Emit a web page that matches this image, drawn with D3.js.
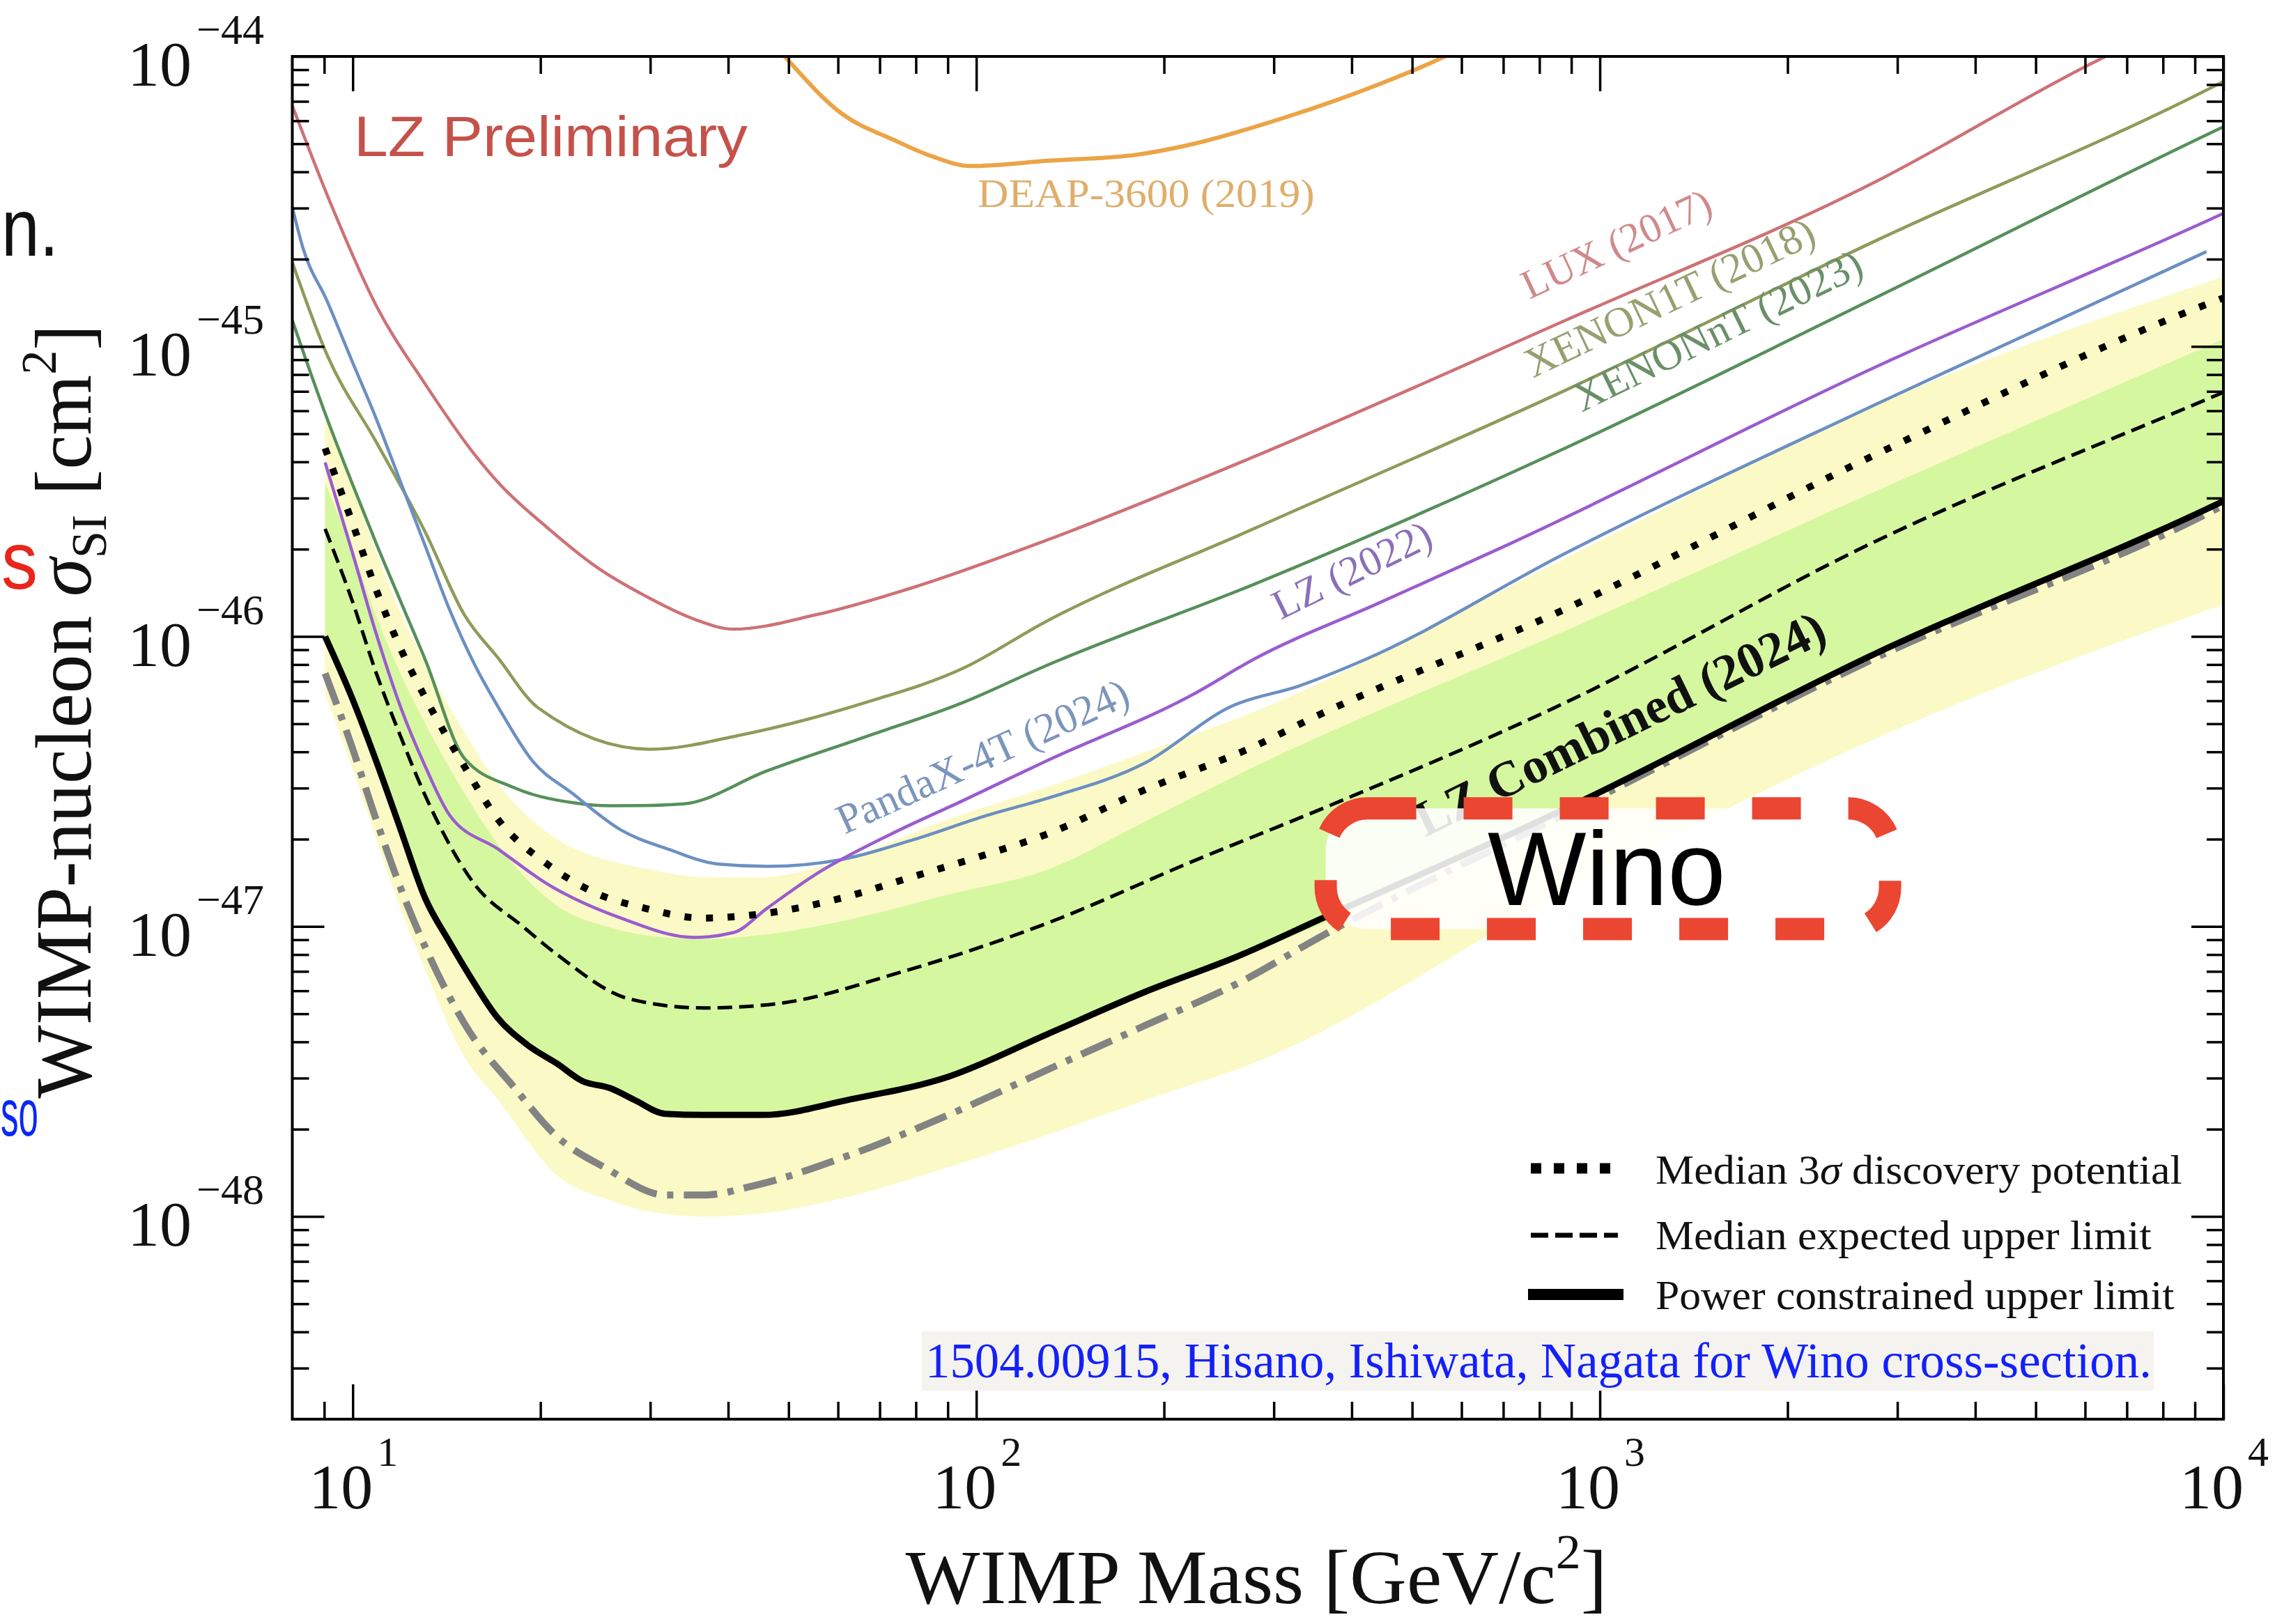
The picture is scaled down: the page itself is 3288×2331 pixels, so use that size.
<!DOCTYPE html>
<html><head><meta charset="utf-8">
<script src="https://cdnjs.cloudflare.com/ajax/libs/d3/7.8.5/d3.min.js"></script>
<style>
html,body{margin:0;padding:0;background:#ffffff;}
svg{display:block;}
</style></head>
<body>
<svg id="chart" width="3288" height="2331"></svg>
<script>
// ---------------- DATA (WIMP mass in GeV/c^2, log10 of cross-section in cm^2) ----------------
const massLUX = [8.0, 9.27, 10.91, 13.07, 15.65, 17.13, 20.52, 24.58, 29.44, 35.26, 40.76, 55.4, 79.5, 129, 279, 881, 2780, 6070, 12000];
const logLUX  = [-44.17, -44.52, -44.86, -45.13, -45.37, -45.47, -45.625, -45.76, -45.86, -45.94, -45.975, -45.925, -45.83, -45.67, -45.38, -44.91, -44.43, -44.03, -43.73];

const massX1T = [8.0, 9.1, 10.91, 13.07, 15.1, 17.13, 19.8, 30.0, 42.3, 66.4, 95.2, 129, 279, 881, 2780, 9614, 11000];
const logX1T  = [-44.71, -45.03, -45.33, -45.64, -45.925, -46.076, -46.245, -46.389, -46.338, -46.228, -46.11, -45.95, -45.628, -45.151, -44.634, -44.105, -44.04];

const massXnT = [8.0, 9.1, 9.97, 10.91, 11.94, 13.07, 15.1, 18.08, 22.5, 25.9, 29.4, 34.0, 46.1, 66.4, 95.2, 129, 279, 881, 2780, 9614, 11000];
const logXnT  = [-44.91, -45.25, -45.47, -45.68, -45.88, -46.08, -46.42, -46.52, -46.573, -46.584, -46.583, -46.577, -46.464, -46.346, -46.228, -46.102, -45.82, -45.35, -44.83, -44.26, -44.2];

const massPX = [8.0, 8.32, 9.1, 9.96, 10.91, 11.94, 13.07, 14.3, 15.65, 17.13, 19.45, 22.47, 26.9, 32.2, 38.6, 46.3, 60.6, 79.5, 104, 129, 185.8, 257, 330, 422, 881, 2780, 9394];
const logPX  = [-44.52, -44.66, -44.844, -45.047, -45.25, -45.469, -45.688, -45.908, -46.093, -46.245, -46.431, -46.54, -46.667, -46.735, -46.785, -46.793, -46.77, -46.70, -46.617, -46.56, -46.438, -46.24, -46.17, -46.078, -45.713, -45.198, -44.673];

const massLZ22 = [9.03, 9.97, 10.91, 11.94, 13.07, 14.3, 17.13, 20.5, 26.9, 35.3, 40.8, 46.2, 55.4, 72.6, 95.2, 129, 222.6, 279, 442, 700, 2780, 9725, 11000];
const logLZ22  = [-45.40, -45.705, -45.992, -46.245, -46.448, -46.616, -46.734, -46.853, -46.971, -47.038, -47.021, -46.937, -46.819, -46.684, -46.566, -46.431, -46.20, -46.078, -45.885, -45.691, -45.069, -44.553, -44.5];

const massDEAP = [45, 49.3, 61.1, 73.4, 84.8, 97.9, 130, 180.7, 216.4, 311, 446, 563, 650];
const logDEAP  = [-43.9, -44.0, -44.2, -44.286, -44.344, -44.378, -44.36, -44.339, -44.308, -44.212, -44.093, -44.001, -43.93];

// LZ combined (2024)
const massDisc = [9.03, 9.97, 10.91, 11.94, 13.07, 15.1, 17.13, 20.5, 24.6, 29.4, 36.5, 46.2, 60.6, 79.5, 104, 129, 185.8, 279, 343, 881, 2780, 9394, 11000];
const logDisc  = [-45.351, -45.604, -45.84, -46.043, -46.211, -46.448, -46.633, -46.785, -46.886, -46.937, -46.971, -46.954, -46.903, -46.827, -46.751, -46.684, -46.53, -46.379, -46.285, -45.905, -45.371, -44.855, -44.8];

const massExp = [9.03, 9.97, 10.91, 11.94, 13.07, 15.65, 18.74, 21.3, 27.9, 36.6, 48, 75.3, 129.5, 222.6, 361.3, 881, 2780, 9826, 11000];
const logExp  = [-45.629, -45.874, -46.127, -46.346, -46.549, -46.852, -47.0, -47.098, -47.251, -47.281, -47.266, -47.159, -46.99, -46.775, -46.591, -46.228, -45.67, -45.165, -45.12];

const massPCL = [9.03, 9.97, 10.91, 11.94, 13.07, 14.3, 15.4, 17.0, 19.1, 21.3, 23.3, 25.9, 28.4, 31.7, 36.6, 45.4, 62.9, 90.2, 129.5, 185.8, 266.6, 356, 881, 2780, 9826, 11000];
const logPCL  = [-46.0, -46.211, -46.431, -46.667, -46.903, -47.054, -47.17, -47.31, -47.41, -47.474, -47.532, -47.558, -47.60, -47.646, -47.65, -47.65, -47.596, -47.518, -47.373, -47.227, -47.097, -46.975, -46.594, -46.057, -45.541, -45.49];

const massObs = [9.03, 9.97, 10.91, 11.94, 13.07, 15.36, 18.07, 21.3, 25.5, 31.7, 36.6, 43.8, 62.9, 90.2, 129.5, 185.8, 266.6, 356, 881, 2780, 9826, 11000];
const logObs  = [-46.127, -46.38, -46.633, -46.869, -47.071, -47.36, -47.55, -47.726, -47.834, -47.926, -47.926, -47.895, -47.787, -47.65, -47.496, -47.343, -47.189, -47.036, -46.612, -46.072, -45.556, -45.5];

const bandMass = [9.03, 9.97, 10.91, 11.94, 13.07, 15.1, 17.13, 21.3, 25.5, 29.4, 36.6, 45, 62.9, 90.2, 129.5, 185.8, 279, 881, 2780, 10000];
const band1Lo  = [-46.0, -46.211, -46.431, -46.667, -46.903, -47.14, -47.30, -47.474, -47.557, -47.62, -47.65, -47.65, -47.596, -47.518, -47.373, -47.227, -47.087, -46.594, -46.057, -45.535];
const band1Hi  = [-45.47, -45.70, -45.93, -46.13, -46.30, -46.54, -46.72, -46.93, -47.0, -47.03, -47.044, -47.03, -46.975, -46.89, -46.806, -46.64, -46.45, -45.98, -45.498, -44.975];
const band2Lo  = [-46.2, -46.45, -46.70, -46.94, -47.15, -47.45, -47.60, -47.86, -47.94, -47.98, -48.0, -47.99, -47.93, -47.83, -47.72, -47.60, -47.47, -46.88, -46.35, -45.89];
const band2Hi  = [-45.22, -45.47, -45.71, -45.92, -46.09, -46.33, -46.51, -46.70, -46.77, -46.80, -46.83, -46.83, -46.76, -46.63, -46.52, -46.40, -46.26, -45.73, -45.20, -44.76];

// ticks
const xMajorTicks = [10, 100, 1000, 10000];
const xMajorExp = ["1", "2", "3", "4"];
const yMajorTicks = [1e-48, 1e-47, 1e-46, 1e-45, 1e-44];
const yMajorExp = ["\u221248", "\u221247", "\u221246", "\u221245", "\u221244"];

const curveNames = ["LUX (2017)", "XENON1T (2018)", "XENONnT (2023)", "LZ (2022)", "PandaX-4T (2024)"];
const legendLabels = ["Median 3σ discovery potential", "Median expected upper limit", "Power constrained upper limit"];
const citation = "1504.00915, Hisano, Ishiwata, Nagata for Wino cross-section.";

// ---------------- LAYOUT ----------------
const svg = d3.select('#chart');
const P = {left: 419.5, right: 3191, top: 81, bottom: 2037};
const x = d3.scaleLog().domain([8, 10000]).range([P.left, P.right]);
const y = d3.scaleLog().domain([2e-49, 1e-44]).range([P.bottom, P.top]);
const SERIF = "'Liberation Serif','Times New Roman',Times,serif";
const SANS = "'Liberation Sans',Arial,Helvetica,sans-serif";

svg.append('rect').attr('width', 3288).attr('height', 2331).attr('fill', '#ffffff');

svg.append('defs').append('clipPath').attr('id', 'clip').append('rect')
  .attr('x', P.left).attr('y', P.top).attr('width', P.right - P.left).attr('height', P.bottom - P.top);

const plot = svg.append('g').attr('clip-path', 'url(#clip)');

const pts = (ms, ls) => ms.map((m, i) => [m, Math.pow(10, ls[i])]);
const line = (curve) => d3.line().x(d => x(d[0])).y(d => y(d[1])).curve(curve || d3.curveMonotoneX);

// bands
const band = (lo, hi) => bandMass.map((m, i) => [m, Math.pow(10, lo[i]), Math.pow(10, hi[i])]);
const area = d3.area().x(d => x(d[0])).y0(d => y(d[1])).y1(d => y(d[2])).curve(d3.curveMonotoneX);
plot.append('path').attr('d', area(band(band2Lo, band2Hi))).attr('fill', '#fbf9c6');
plot.append('path').attr('d', area(band(band1Lo, band1Hi))).attr('fill', '#d5f7a0');

// other experiments
const others = [
  {m: massDEAP, l: logDEAP, c: '#eba446', w: 6},
  {m: massLUX, l: logLUX, c: '#cd7276', w: 4.5},
  {m: massX1T, l: logX1T, c: '#8d9c5a', w: 4.5},
  {m: massXnT, l: logXnT, c: '#56905a', w: 4.5},
  {m: massPX, l: logPX, c: '#6b8fc2', w: 4.5},
  {m: massLZ22, l: logLZ22, c: '#9b5ccf', w: 4.5}
];
others.forEach(o => {
  plot.append('path').attr('d', line()(pts(o.m, o.l)))
    .attr('fill', 'none').attr('stroke', o.c).attr('stroke-width', o.w).attr('stroke-linejoin', 'round');
});

// LZ 2024 lines
plot.append('path').attr('d', line()(pts(massObs, logObs)))
  .attr('fill', 'none').attr('stroke', '#838383').attr('stroke-width', 10)
  .attr('stroke-dasharray', '48 15 9 15');
plot.append('path').attr('d', line()(pts(massPCL, logPCL)))
  .attr('fill', 'none').attr('stroke', '#000').attr('stroke-width', 9).attr('stroke-linejoin', 'round');
plot.append('path').attr('d', line()(pts(massExp, logExp)))
  .attr('fill', 'none').attr('stroke', '#000').attr('stroke-width', 5).attr('stroke-dasharray', '21 10');
plot.append('path').attr('d', line()(pts(massDisc, logDisc)))
  .attr('fill', 'none').attr('stroke', '#000').attr('stroke-width', 10).attr('stroke-dasharray', '10 21');

// ---------------- AXES ----------------
const minorX = [];
[1, 10, 100, 1000].forEach(d => { for (let k = 2; k <= 9; k++) { const v = d * k; if (v > 8 && v < 10000) minorX.push(v); } });
const minorY = [];
[1e-49, 1e-48, 1e-47, 1e-46, 1e-45].forEach(d => { for (let k = 2; k <= 9; k++) { const v = d * k; if (v > 2.01e-49 && v < 1e-44) minorY.push(v); } });

function addAxis(gen, tf) {
  const a = svg.append('g').attr('transform', tf).call(gen);
  a.select('.domain').remove();
  a.selectAll('line').attr('stroke', '#000').attr('stroke-width', 3.5);
  a.selectAll('text').remove();
}
addAxis(d3.axisBottom(x).tickValues(xMajorTicks).tickSize(-50).tickFormat(''), `translate(0,${P.bottom})`);
addAxis(d3.axisBottom(x).tickValues(minorX).tickSize(-25).tickFormat(''), `translate(0,${P.bottom})`);
addAxis(d3.axisTop(x).tickValues(xMajorTicks).tickSize(-50).tickFormat(''), `translate(0,${P.top})`);
addAxis(d3.axisTop(x).tickValues(minorX).tickSize(-25).tickFormat(''), `translate(0,${P.top})`);
addAxis(d3.axisLeft(y).tickValues(yMajorTicks).tickSize(-46).tickFormat(''), `translate(${P.left},0)`);
addAxis(d3.axisLeft(y).tickValues(minorY).tickSize(-24).tickFormat(''), `translate(${P.left},0)`);
addAxis(d3.axisRight(y).tickValues(yMajorTicks).tickSize(-46).tickFormat(''), `translate(${P.right},0)`);
addAxis(d3.axisRight(y).tickValues(minorY).tickSize(-24).tickFormat(''), `translate(${P.right},0)`);

svg.append('rect').attr('x', P.left).attr('y', P.top).attr('width', P.right - P.left).attr('height', P.bottom - P.top)
  .attr('fill', 'none').attr('stroke', '#000').attr('stroke-width', 4);

// tick labels
xMajorTicks.forEach((v, i) => {
  svg.append('text').attr('x', x(v) - 17).attr('y', 2165).attr('text-anchor', 'middle')
    .attr('font-family', SERIF).attr('font-size', 92).attr('fill', '#111').text('10');
  svg.append('text').attr('x', x(v) + 35).attr('y', 2104).attr('text-anchor', 'start')
    .attr('font-family', SERIF).attr('font-size', 60).attr('fill', '#111').text(xMajorExp[i]);
});
yMajorTicks.forEach((v, i) => {
  svg.append('text').attr('x', 275).attr('y', y(v) + 42).attr('text-anchor', 'end')
    .attr('font-family', SERIF).attr('font-size', 92).attr('fill', '#111').text('10');
  svg.append('text').attr('x', 282).attr('y', y(v) - 18).attr('text-anchor', 'start')
    .attr('font-family', SERIF).attr('font-size', 62).attr('fill', '#111').text(yMajorExp[i]);
});

// helper: text fitted to a target width by horizontal scaling
function fitText(tx, ty, rot, anchor, targetW, build) {
  const gg = svg.append('g');
  const t = gg.append('text').attr('text-anchor', anchor);
  build(t);
  const w = t.node().getBBox().width;
  const s = targetW / w;
  gg.attr('transform', `translate(${tx},${ty}) rotate(${rot}) scale(${s},1)`);
  return t;
}
// helper: text whose font size is set so that it reaches a target length
function sizedText(tx, ty, rot, targetW, baseSize, build) {
  const t = svg.append('text').attr('transform', `translate(${tx},${ty}) rotate(${rot})`).attr('font-size', baseSize);
  build(t);
  const w = t.node().getBBox().width;
  t.attr('font-size', baseSize * targetW / w);
  return t;
}

// axis titles
fitText(1803, 2301, 0, 'middle', 1007, t => {
  t.attr('font-family', SERIF).attr('font-size', 110).attr('fill', '#111');
  t.append('tspan').text('WIMP Mass [GeV/c');
  t.append('tspan').attr('font-size', 70).attr('dy', -50).text('2');
  t.append('tspan').attr('dy', 50).text(']');
});
fitText(130, 1021, -90, 'middle', 1111, t => {
  t.attr('font-family', SERIF).attr('font-size', 114).attr('fill', '#111');
  t.append('tspan').text('WIMP-nucleon ');
  t.append('tspan').attr('font-style', 'italic').text('σ');
  t.append('tspan').attr('font-size', 72).attr('dy', 22).text('SI');
  t.append('tspan').attr('dy', -22).text(' [cm');
  t.append('tspan').attr('font-size', 72).attr('dy', -50).text('2');
  t.append('tspan').attr('dy', 50).text(']');
});

// ---------------- ANNOTATIONS ----------------
fitText(508, 224, 0, 'start', 565, t => {
  t.attr('font-family', SANS).attr('font-size', 82).attr('fill', '#c4524a').text('LZ Preliminary');
});
fitText(1403, 297, 0, 'start', 484, t => {
  t.attr('font-family', SERIF).attr('font-size', 58).attr('fill', '#dfae6c').text('DEAP-3600 (2019)');
});

const labelStyle = [
  {px: 2195, py: 430, a: -25, c: '#d08a8c', w: 294},
  {px: 2200, py: 543, a: -25.5, c: '#97a070', w: 454},
  {px: 2270, py: 592, a: -26, c: '#6a9068', w: 454},
  {px: 1838, py: 890, a: -26, c: '#8a70b8', w: 247},
  {px: 1212, py: 1198, a: -24.5, c: '#7c95bb', w: 454}
];
curveNames.forEach((name, i) => {
  const l = labelStyle[i];
  sizedText(l.px, l.py, l.a, l.w, 58, t => {
    t.attr('font-family', SERIF).attr('fill', l.c).text(name);
  });
});
sizedText(2045, 1202, -26, 646, 68, t => {
  t.attr('font-family', SERIF).attr('font-weight', 'bold').attr('fill', '#111').text('LZ Combined (2024)');
});

// Wino box
svg.append('rect').attr('x', 1902.6).attr('y', 1160.3).attr('width', 810).attr('height', 173.3).attr('rx', 60)
  .attr('fill', '#ffffff').attr('fill-opacity', 0.88)
  .attr('stroke', '#eb4632').attr('stroke-width', 32).attr('stroke-dasharray', '70 68');
svg.append('text').attr('x', 2135).attr('y', 1299).attr('font-family', SANS).attr('font-size', 150)
  .attr('fill', '#000').text('Wino');

// legend
const legY = [1677, 1773, 1858];
const legTextY = [1699, 1793, 1879];
const legW = [756, 712, 745];
const lg = svg.append('g');
lg.append('line').attr('x1', 2197).attr('x2', 2318).attr('y1', legY[0]).attr('y2', legY[0])
  .attr('stroke', '#000').attr('stroke-width', 15).attr('stroke-dasharray', '15 18');
lg.append('line').attr('x1', 2197).attr('x2', 2322).attr('y1', legY[1]).attr('y2', legY[1])
  .attr('stroke', '#000').attr('stroke-width', 7).attr('stroke-dasharray', '25 10');
lg.append('line').attr('x1', 2193).attr('x2', 2330).attr('y1', legY[2]).attr('y2', legY[2])
  .attr('stroke', '#000').attr('stroke-width', 16);
legendLabels.forEach((s, i) => {
  fitText(2376, legTextY[i], 0, 'start', legW[i], t => {
    t.attr('font-family', SERIF).attr('font-size', 60).attr('fill', '#111');
    if (s.indexOf('σ') >= 0) {
      const parts = s.split('σ');
      t.append('tspan').text(parts[0]);
      t.append('tspan').attr('font-style', 'italic').text('σ');
      t.append('tspan').text(parts[1]);
    } else t.text(s);
  });
});

// citation
svg.append('rect').attr('x', 1323).attr('y', 1911).attr('width', 1768).attr('height', 85).attr('fill', '#f4f3ef');
fitText(1328, 1977, 0, 'start', 1760, t => {
  t.attr('font-family', SERIF).attr('font-size', 72).attr('fill', '#1420fa').text(citation);
});

// slide text fragments at the left edge
fitText(2, 367, 0, 'start', 82, t => {
  t.attr('font-family', SANS).attr('font-size', 116).attr('fill', '#111').text('n.');
});
fitText(2, 845, 0, 'start', 52, t => {
  t.attr('font-family', SANS).attr('font-size', 116).attr('fill', '#e8261c').text('s');
});
fitText(1, 1630, 0, 'start', 54, t => {
  t.attr('font-family', SANS).attr('font-size', 94).attr('fill', '#0a28f5').text('so');
});
</script>
</body></html>
